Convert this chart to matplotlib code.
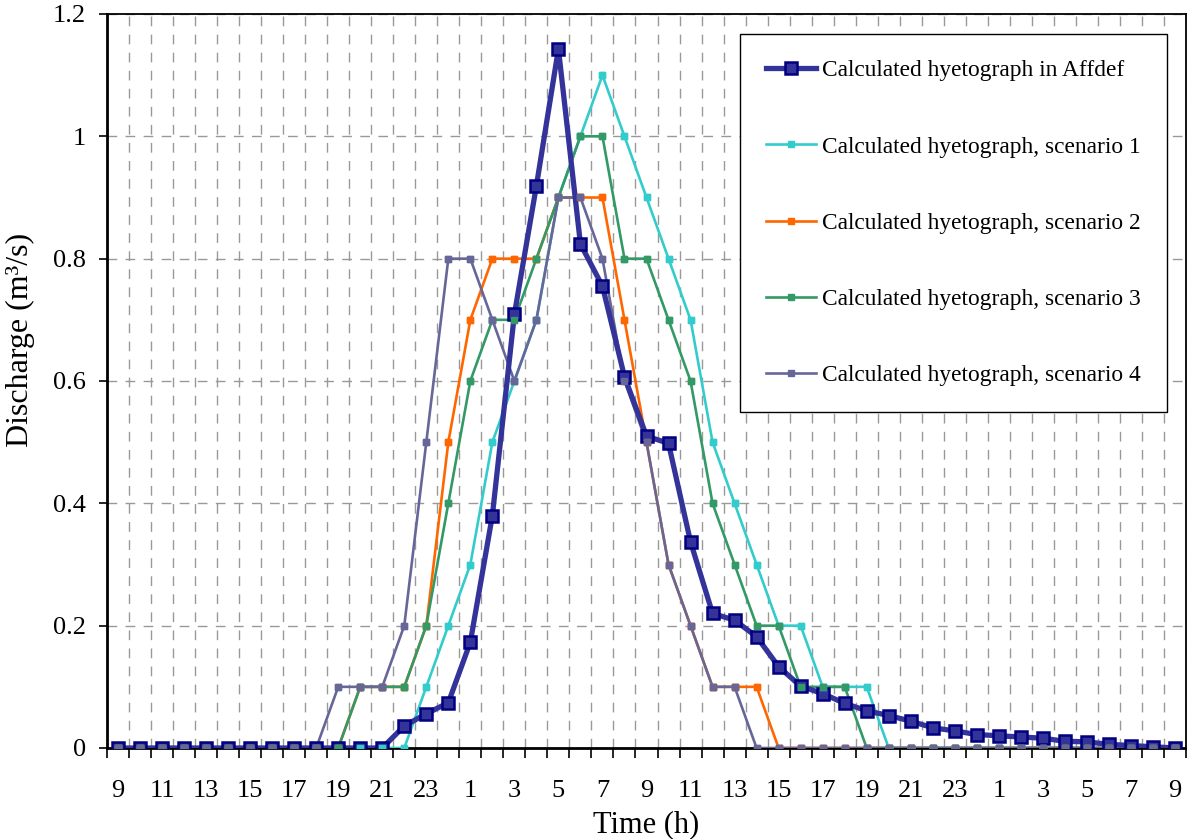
import numpy as np
import matplotlib
matplotlib.use("Agg")
import matplotlib.pyplot as plt

plt.rcParams['font.family'] = ['Liberation Serif', 'DejaVu Serif']

# hours 9h day 1 -> 9h day 3, one point per hour
hours = [(9 + i) % 24 for i in range(49)]

affdef = [0, 0, 0, 0, 0, 0, 0, 0, 0, 0, 0, 0, 0,
          0.036, 0.056, 0.074, 0.173, 0.38, 0.709, 0.919, 1.143, 0.824, 0.755,
          0.607, 0.51, 0.498, 0.337, 0.22, 0.209, 0.182, 0.133, 0.101, 0.089,
          0.073, 0.061, 0.053, 0.044, 0.033, 0.028, 0.022, 0.02, 0.018, 0.016,
          0.011, 0.01, 0.006, 0.004, 0.002, 0]
scen1 = [0, 0, 0, 0, 0, 0, 0, 0, 0, 0, 0, 0, 0, 0,
         0.1, 0.2, 0.3, 0.5, 0.6, 0.7, 0.9, 1.0, 1.1, 1.0, 0.9, 0.8, 0.7,
         0.5, 0.4, 0.3, 0.2, 0.2, 0.1, 0.1, 0.1, 0,
         0, 0, 0, 0, 0, 0, 0, 0, 0, 0, 0, 0, 0]
scen2 = [0, 0, 0, 0, 0, 0, 0, 0, 0, 0, 0, 0.1, 0.1, 0.1,
         0.2, 0.5, 0.7, 0.8, 0.8, 0.8, 0.9, 0.9, 0.9, 0.7, 0.5, 0.3, 0.2,
         0.1, 0.1, 0.1, 0,
         0, 0, 0, 0, 0, 0, 0, 0, 0, 0, 0, 0, 0, 0, 0, 0, 0, 0]
scen3 = [0, 0, 0, 0, 0, 0, 0, 0, 0, 0, 0, 0.1, 0.1, 0.1,
         0.2, 0.4, 0.6, 0.7, 0.7, 0.8, 0.9, 1.0, 1.0, 0.8, 0.8, 0.7, 0.6,
         0.4, 0.3, 0.2, 0.2, 0.1, 0.1, 0.1, 0,
         0, 0, 0, 0, 0, 0, 0, 0, 0, 0, 0, 0, 0, 0]
scen4 = [0, 0, 0, 0, 0, 0, 0, 0, 0, 0, 0.1, 0.1, 0.1, 0.2,
         0.5, 0.8, 0.8, 0.7, 0.6, 0.7, 0.9, 0.9, 0.8, 0.6, 0.5, 0.3, 0.2,
         0.1, 0.1, 0,
         0, 0, 0, 0, 0, 0, 0, 0, 0, 0, 0, 0, 0, 0, 0, 0, 0, 0, 0]

x = np.arange(len(hours))

fig = plt.figure(figsize=(11.87, 8.39), dpi=100)
ax = fig.add_axes([107/1187, 1 - 748/839, 1079/1187, 734/839])

ax.plot(x, affdef, color='#333399', lw=3.8, marker='s', ms=8.5, mfc='#333399',
        mec='#000080', mew=1.8, zorder=4, label='Calculated hyetograph in Affdef')

scen = [(scen1, '#33CCCC', 'Calculated hyetograph, scenario 1'),
        (scen2, '#FF6600', 'Calculated hyetograph, scenario 2'),
        (scen3, '#339966', 'Calculated hyetograph, scenario 3'),
        (scen4, '#666699', 'Calculated hyetograph, scenario 4')]
for k, (y, c, lab) in enumerate(scen):
    ax.plot(x, y, color=c, lw=1.9, marker='s', ms=4.8, mfc=c, mec=c,
            zorder=3 + 0.1 * k, label=lab)
    # markers over the thick line
    ax.plot(x, y, ls='none', marker='s', ms=4.8, mfc=c, mec=c, zorder=5 + 0.1 * k)

ax.set_xlim(-0.5, 48.5)
ax.set_ylim(0, 1.2)

ax.set_xticks(x[::2])
ax.set_xticklabels([str(h) for h in hours[::2]])
ax.set_xticks(np.arange(-0.5, 49, 1), minor=True)
ax.tick_params(axis='x', which='major', length=0, labelsize=19, pad=23)
ax.tick_params(axis='x', which='minor', length=7, width=1.2, direction='out')
ax.set_yticks([0, 0.2, 0.4, 0.6, 0.8, 1.0, 1.2])
ax.set_yticklabels(['0', '0.2', '0.4', '0.6', '0.8', '1', '1.2'])
ax.tick_params(axis='y', length=6, width=1.2, labelsize=19, pad=9)

ax.grid(which='minor', axis='x', color='#999999', lw=1, ls=(0, (7, 6)))
ax.grid(which='major', axis='y', color='#999999', lw=1, ls=(0, (7, 6)))
ax.set_axisbelow(True)

for s in ax.spines.values():
    s.set_color('black')
    s.set_linewidth(1.3)
ax.spines['left'].set_linewidth(2)
ax.spines['bottom'].set_linewidth(2)

ax.set_xlabel('Time (h)', fontsize=22, labelpad=6)
ax.set_ylabel('Discharge (m³/s)', fontsize=23)
ax.yaxis.set_label_coords(-0.0665, 0.556)

leg = ax.legend(loc='upper left', bbox_to_anchor=(740/1187, 1 - 34/839),
                bbox_transform=fig.transFigure, fontsize=16.8, frameon=True,
                fancybox=False, framealpha=1, edgecolor='black',
                borderaxespad=0, borderpad=1.12, labelspacing=2.35,
                handlelength=2.15, handletextpad=0.26)
leg.get_frame().set_linewidth(1)

fig.savefig('out.png', dpi=100)
